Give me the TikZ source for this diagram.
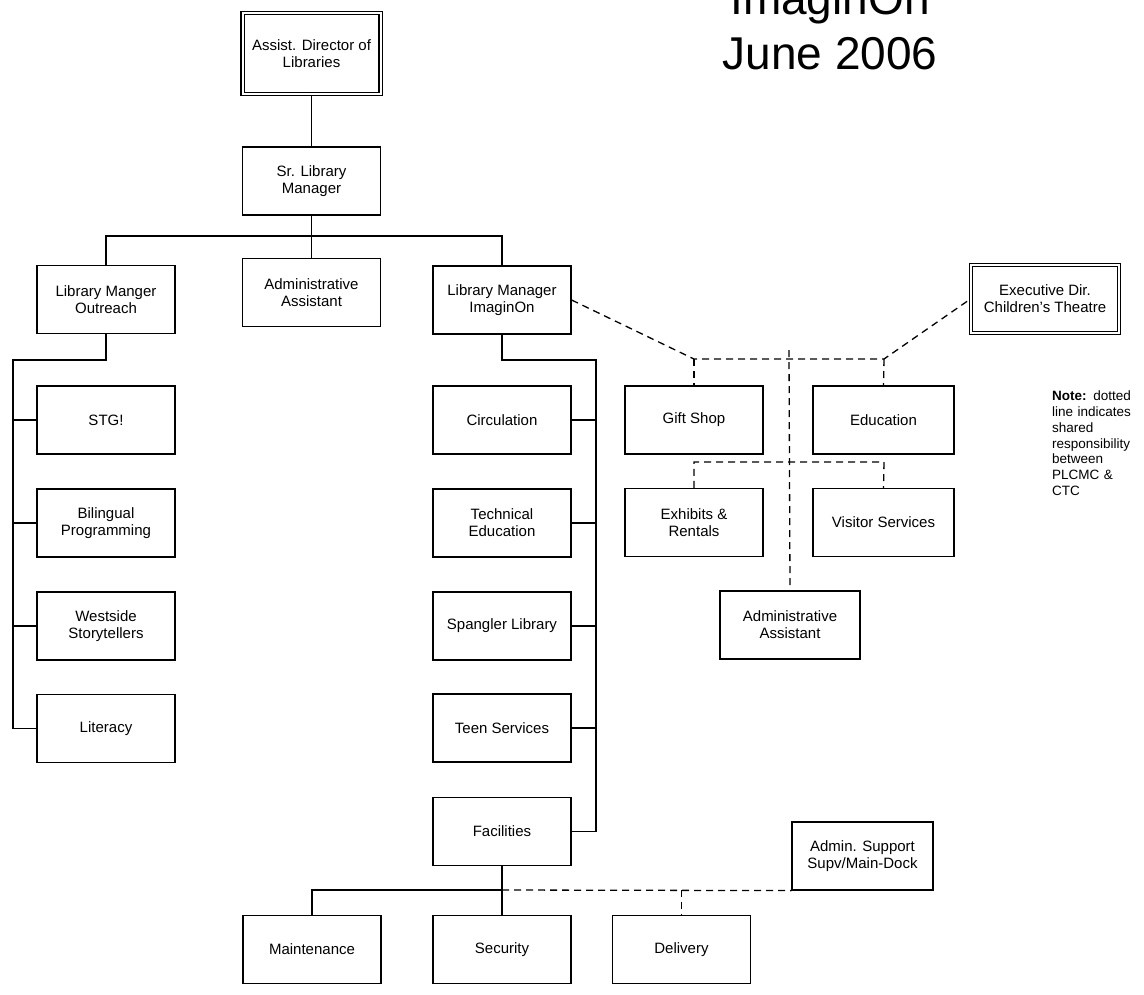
\documentclass[tikz,border=0pt]{standalone}
\usepackage{fontspec}
\setmainfont{Liberation Sans}
\usepackage{tikz}
\usetikzlibrary{positioning}
\tikzstyle{rect} = [shape=rectangle, draw, line width=1.2pt,
		anchor=center, align=center,
		minimum width=138pt, minimum height=68pt,
		inner sep=0pt, font=\fontsize{15}{17}\selectfont]
\tikzstyle{dblrect} = [rect, double, double distance=2pt, line width=1.1pt]
\tikzstyle{link} = [draw, line width=1.3pt]
\tikzstyle{shared} = [draw, line width=1.3pt, dash pattern=on 7pt off 5pt]
\tikzstyle{title} = [anchor=base, inner sep=0pt, font=\fontsize{46}{55}\selectfont]

\begin{document}
\begin{tikzpicture}[x=1pt, y=-1pt]
	\useasboundingbox (0,0) rectangle (1144,994);

	\node[title] (title1) at (830,14) {ImaginOn};
	\node[title] (title2) at (830,69) {June 2006};

	\node[dblrect, minimum height=81pt] (assist) at (311.5,53.5) {Assist. Director of\\Libraries};
	\node[rect] (srmgr) at (311.5,181) {Sr. Library\\Manager};
	\node[rect] (outreach) at (106,299.5) {Library Manger\\Outreach};
	\node[rect] (admin) at (311.5,292.5) {Administrative\\Assistant};
	\node[rect] (imaginon) at (502,300) {Library Manager\\ImaginOn};
	\node[dblrect, minimum width=148pt] (execdir) at (1045,299) {Executive Dir.\\Children's Theatre};

	\node[rect] (stg) at (106,420) {STG!};
	\node[rect] (bilingual) at (106,523) {Bilingual\\Programming};
	\node[rect] (westside) at (106,626) {Westside\\Storytellers};
	\node[rect] (literacy) at (106,728.5) {Literacy};

	\node[rect] (circulation) at (502,420) {Circulation};
	\node[rect] (technical) at (502,523) {Technical\\Education};
	\node[rect] (spangler) at (502,626) {Spangler Library};
	\node[rect] (teen) at (502,728) {Teen Services};
	\node[rect] (facilities) at (502,831.5) {Facilities};

	\node[rect] (giftshop) at (694,420) {Gift Shop};
	\node[rect, minimum width=141pt] (education) at (883.5,420) {Education};
	\node[rect] (exhibits) at (694,522.5) {Exhibits \&\\Rentals};
	\node[rect, minimum width=141pt] (visitor) at (883.5,522.5) {Visitor Services};
	\node[rect, minimum width=140pt] (adminctc) at (790,625) {Administrative\\Assistant};

	\node[rect] (maintenance) at (312,949.5) {Maintenance};
	\node[rect] (security) at (502,949.5) {Security};
	\node[rect] (delivery) at (681.5,949.5) {Delivery};
	\node[rect, minimum width=141pt] (adminsup) at (862.5,856) {Admin. Support\\Supv/Main-Dock};

	\node[anchor=north west, inner sep=0pt, text width=92pt, align=left,
		font=\fontsize{13.5}{15.7}\selectfont] (note) at (1052,391)
		{\textbf{Note:} dotted\\line indicates\\shared\\responsibility\\between\\PLCMC \&\\CTC};

	\coordinate (bus) at (311.5,236);
	\coordinate (lbus) at (13,360);
	\coordinate (rbus) at (596,360);
	\coordinate (jl) at (694,359);
	\coordinate (jr) at (884,359);
	\coordinate (ctop) at (789,350);
	\coordinate (jl2) at (694,462);
	\coordinate (jr2) at (884,462);
	\coordinate (fbus) at (502,890);
	\coordinate (dj) at (681.5,890);

	\path[link] (assist) -- (srmgr);
	\path[link] (srmgr) -- (admin);
	\path[link] (outreach.north) |- (bus) -| (imaginon.north);
	\path[link] (outreach.south) |- (lbus) |- (literacy.west);
	\foreach \n in {stg,bilingual,westside}
		\path[link] (\n.west) -- (\n.west -| lbus);
	\path[link] (imaginon.south) |- (rbus) |- (facilities.east);
	\foreach \n in {circulation,technical,spangler,teen}
		\path[link] (\n.east) -- (\n.east -| rbus);
	\path[link] (facilities) -- (security);
	\path[link] (fbus) -| (maintenance.north);

	\path[shared] (imaginon.east) -- (jl) -- (jr) -- (execdir.west);
	\path[shared] (jl) -- (giftshop.north);
	\path[shared] (jr) -- (education.north);
	\path[shared] (ctop) -- (adminctc.north);
	\path[shared] (exhibits.north) -- (jl2) -- (jr2) -- (visitor.north);
	\path[shared] (fbus) -- (adminsup.south west);
	\path[shared] (dj) -- (delivery.north);
\end{tikzpicture}
\end{document}
